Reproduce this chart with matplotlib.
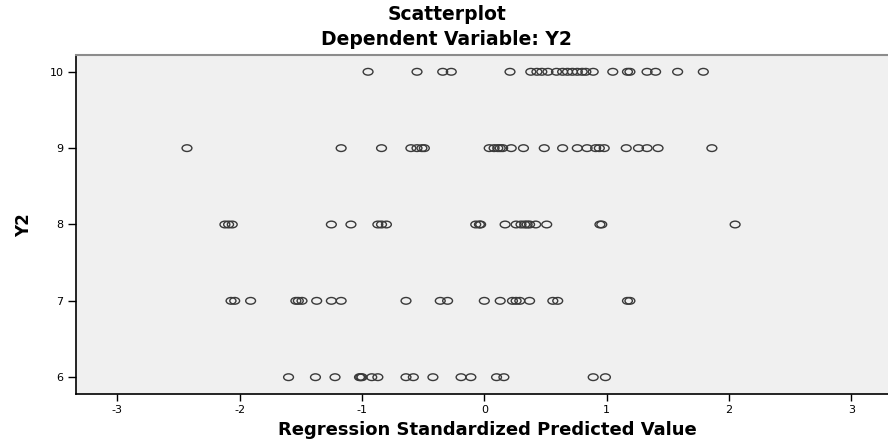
import matplotlib.pyplot as plt
from matplotlib.path import Path
from matplotlib.transforms import Affine2D

plt.rcParams['font.family'] = ['DejaVu Sans']
plt.rcParams['axes.unicode_minus'] = False

# Predicted values (standardized) for each level of Y2
pred_y10 = [-0.95, -0.55, -0.34, -0.27, 0.21, 0.38, 0.43, 0.47, 0.52, 0.59, 0.64,
            0.68, 0.72, 0.76, 0.80, 0.83, 0.89, 1.05, 1.17, 1.19, 1.33, 1.40,
            1.58, 1.79]
pred_y9 = [-2.43, -1.17, -0.84, -0.60, -0.55, -0.51, -0.49, 0.04, 0.08, 0.11,
           0.13, 0.15, 0.22, 0.32, 0.49, 0.64, 0.76, 0.84, 0.91, 0.94, 0.98,
           1.16, 1.26, 1.33, 1.42, 1.86]
pred_y8 = [-2.12, -2.09, -2.06, -1.25, -1.09, -0.87, -0.84, -0.80, -0.07, -0.04,
           -0.03, 0.17, 0.26, 0.30, 0.33, 0.35, 0.37, 0.42, 0.51, 0.945, 0.96,
           2.05]
pred_y7 = [-2.07, -2.04, -1.91, -1.54, -1.52, -1.49, -1.37, -1.25, -1.17, -0.64,
           -0.36, -0.30, 0.00, 0.13, 0.23, 0.26, 0.29, 0.37, 0.56, 0.60, 1.17,
           1.19]
pred_y6 = [-1.60, -1.38, -1.22, -1.02, -1.01, -1.00, -0.92, -0.87, -0.64, -0.58,
           -0.42, -0.19, -0.11, 0.10, 0.16, 0.89, 0.99]

levels = [10, 9, 8, 7, 6]
series = [pred_y10, pred_y9, pred_y8, pred_y7, pred_y6]

xticks = [-3, -2, -1, 0, 1, 2, 3]
yticks = [6, 7, 8, 9, 10]

# SPSS style flattened circle marker
ellipse = Path.unit_circle().transformed(Affine2D().scale(1.0, 0.68))

fig = plt.figure(figsize=(8.88, 4.41), dpi=100)
ax = fig.add_axes([0.0856, 0.1066, 0.92, 0.7687])
ax.set_facecolor('#F0F0F0')

for lev, vals in zip(levels, series):
    ax.scatter(vals, [lev] * len(vals), marker=ellipse, s=50,
               facecolors='none', edgecolors='#3a3a3a', linewidths=1.0)

ax.set_xlim(-3.337, 3.34)
ax.set_ylim(5.78, 10.22)
ax.set_xticks(xticks)
ax.set_yticks(yticks)
ax.tick_params(axis='both', labelsize=8, length=5, width=1, direction='out',
               pad=3)
ax.tick_params(axis='y', length=6)

for s in ['left', 'bottom']:
    ax.spines[s].set_color('black')
    ax.spines[s].set_linewidth(1.2)
for s in ['top', 'right']:
    ax.spines[s].set_color('#8c8c8c')
    ax.spines[s].set_linewidth(1.5)

fig.text(0.503, 0.968, 'Scatterplot', ha='center', va='center',
         fontsize=13.5, fontweight='bold')
fig.text(0.503, 0.91, 'Dependent Variable: Y2', ha='center', va='center',
         fontsize=13.5, fontweight='bold')
fig.text(0.549, 0.026, 'Regression Standardized Predicted Value',
         ha='center', va='center', fontsize=13, fontweight='bold')
fig.text(0.027, 0.49, 'Y2', ha='center', va='center', rotation=90,
         fontsize=12, fontweight='bold')

fig.savefig('out.png', dpi=100)
